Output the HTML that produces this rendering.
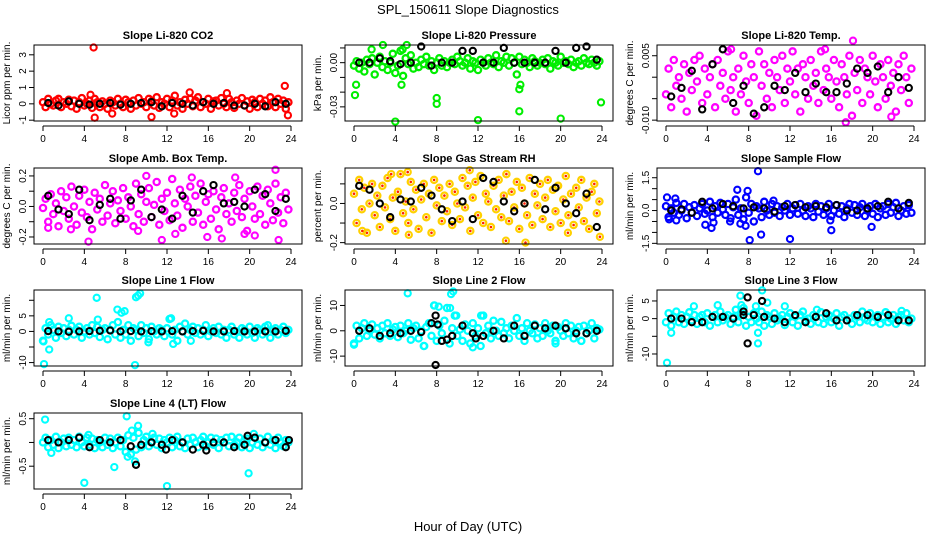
<!DOCTYPE html>
<html><head><meta charset="utf-8">
<style>
html,body{margin:0;padding:0;background:#fff;}
svg{display:block;font-family:"Liberation Sans",Arial,sans-serif;}
</style></head>
<body>
<svg id="chart" width="936" height="540" viewBox="0 0 936 540" xmlns="http://www.w3.org/2000/svg">
<text x="468" y="14" text-anchor="middle" font-size="13">SPL_150611  Slope Diagnostics</text>
<text x="468" y="531" text-anchor="middle" font-size="13">Hour of Day (UTC)</text>
</svg>
<script>
const hoursA=[0,0.25,0.5,0.75,1,1.25,1.5,1.75,2,2.25,2.5,2.75,3,3.25,3.5,3.75,4,4.25,4.5,4.75,5,5.25,5.5,5.75,6,6.25,6.5,6.75,7,7.25,7.5,7.75,8,8.25,8.5,8.75,9,9.25,9.5,9.75,10,10.25,10.5,10.75,11,11.25,11.5,11.75,12,12.25,12.5,12.75,13,13.25,13.5,13.75,14,14.25,14.5,14.75,15,15.25,15.5,15.75,16,16.25,16.5,16.75,17,17.25,17.5,17.75,18,18.25,18.5,18.75,19,19.25,19.5,19.75,20,20.25,20.5,20.75,21,21.25,21.5,21.75,22,22.25,22.5,22.75,23,23.25,23.5,23.75];
const hoursB=[0.5,1.5,2.5,3.5,4.5,5.5,6.5,7.5,8.5,9.5,10.5,11.5,12.5,13.5,14.5,15.5,16.5,17.5,18.5,19.5,20.5,21.5,22.5,23.5];
const xTicks=[0,4,8,12,16,20,24];

const co2Color=[0.1,-0.2,0.3,0.0,-0.1,0.2,0.3,-0.2,0.1,0.0,0.25,-0.15,0.2,-0.3,0.1,0.35,-0.1,0.0,0.2,-0.25,0.3,0.1,-0.2,0.15,0.0,-0.3,0.2,0.1,-0.1,0.3,0.0,-0.2,0.25,0.1,-0.3,0.2,-0.1,0.35,0.0,0.1,-0.2,0.3,0.15,-0.1,0.4,-0.25,0.1,0.0,0.3,-0.2,0.2,0.5,-0.1,0.1,-0.3,0.25,0.0,0.3,-0.15,0.2,0.4,-0.2,0.1,0.0,0.3,-0.3,0.15,0.2,-0.1,0.35,0.0,-0.2,0.3,0.1,-0.25,0.2,0.0,0.35,-0.1,0.15,-0.3,0.25,0.1,-0.2,0.3,0.0,0.2,-0.15,0.4,0.1,-0.2,0.3,0.0,0.2,-0.3,0.1];
const co2OutH=[4.9,5.0,6.7,10.5,12.7,23.4,23.7,14.2,17.8,4.6];
const co2OutV=[3.45,-0.85,-0.6,-0.8,-0.6,1.1,-0.7,0.7,0.65,0.55];
const co2Black=[0.05,-0.1,0.15,0.0,-0.05,0.0,0.05,-0.05,0.0,0.05,0.1,-0.15,0.05,0.0,-0.1,0.1,0.0,0.05,-0.1,-0.1,0.0,-0.15,0.1,0.0];

const presColor=[-0.002,0.001,-0.004,0.0,-0.006,0.002,-0.001,0.003,-0.008,0.0,0.004,-0.003,0.001,-0.005,0.0,0.006,-0.007,-0.002,0.008,-0.009,0.003,-0.001,0.005,-0.004,0.0,-0.003,0.002,-0.001,0.004,-0.002,0.001,-0.005,0.0,0.003,-0.002,0.001,-0.003,0.0,0.002,-0.001,0.004,0.001,-0.002,0.0,0.003,-0.004,0.001,0.0,-0.005,0.002,0.0,-0.002,0.003,0.0,-0.001,0.005,-0.003,0.001,0.0,0.004,-0.002,0.003,0.0,-0.008,0.004,-0.001,0.002,0.0,-0.003,0.003,0.001,-0.002,0.0,0.002,-0.001,0.003,-0.004,0.001,0.0,-0.002,0.004,0.0,0.001,-0.001,0.002,-0.003,0.0,0.001,-0.002,0.003,0.0,-0.001,0.002,0.0,-0.002,0.001];
const presOutH=[0.1,0.2,2.8,4.0,4.6,5.1,8.0,8.0,12.0,16.0,16.0,16.1,20.0,23.9,1.7,4.7];
const presOutV=[-0.022,-0.015,0.012,-0.04,-0.015,0.012,-0.024,-0.028,-0.039,-0.033,-0.018,-0.015,-0.038,-0.027,0.009,0.009];
const presBlack=[0.0,0.0,0.003,0.001,-0.001,0.0,0.011,-0.002,0.0,0.0,0.008,0.008,0.0,0.0,0.010,0.0,0.0,0.0,0.0,0.008,0.0,0.010,0.011,0.002];

const tempColor=[-0.004,0.002,-0.007,0.004,-0.002,0.0,-0.005,0.003,-0.008,0.001,-0.003,0.004,-0.001,0.005,-0.006,0.002,-0.004,0.0,0.003,-0.007,0.004,-0.002,0.001,-0.005,0.006,-0.003,0.0,-0.008,0.002,-0.004,0.005,-0.001,-0.006,0.003,0.0,-0.009,0.006,-0.002,0.003,-0.005,0.001,-0.007,0.004,0.0,-0.003,0.005,-0.006,0.002,-0.001,0.006,-0.004,0.002,-0.008,0.003,0.0,-0.005,0.004,-0.002,0.001,-0.006,0.006,-0.003,0.002,0.0,-0.005,0.004,-0.001,-0.007,0.003,0.0,-0.004,0.005,-0.009,0.001,-0.003,0.004,-0.006,0.002,0.0,-0.004,0.005,-0.001,-0.007,0.003,0.0,-0.005,0.004,-0.002,0.001,-0.008,0.003,-0.003,0.005,0.0,-0.006,0.002];
const tempOutH=[18.1,17.4,15.4,6.3,21.8];
const tempOutV=[0.0085,-0.0105,0.0065,0.0065,-0.0092];
const tempBlack=[-0.0045,-0.0025,0.0015,-0.0075,0.003,0.0065,-0.006,-0.002,-0.0085,-0.007,-0.002,-0.003,0.001,-0.0035,-0.0015,-0.0035,-0.0035,-0.0015,0.002,0.001,0.0025,-0.0035,0.0,-0.0025];

const ambColor=[-0.01,0.05,-0.1,0.08,-0.05,0.02,-0.13,0.1,-0.03,0.06,-0.08,0.13,0.0,-0.12,0.07,-0.04,0.11,-0.07,0.03,-0.15,0.09,-0.02,0.05,-0.1,0.14,-0.06,0.02,0.1,-0.11,0.04,-0.03,0.12,-0.08,0.06,0.0,-0.13,0.15,-0.05,0.08,-0.1,0.03,0.12,-0.07,0.01,0.16,-0.12,0.05,-0.03,0.09,-0.09,0.18,0.02,-0.06,0.11,-0.14,0.05,0.0,0.13,-0.1,0.07,-0.04,0.15,-0.12,0.03,0.08,-0.08,0.1,-0.02,-0.15,0.06,0.12,-0.05,0.02,-0.1,0.09,-0.03,0.14,-0.07,0.05,-0.16,0.1,0.0,-0.08,0.13,-0.05,0.07,-0.12,0.11,0.02,-0.09,0.15,-0.04,0.06,-0.11,0.09,-0.02];
const ambOutH=[4.4,11.5,12.8,22.5,22.8,15.9,17.3,20.5,9.2,19.5,10.0,14.4,18.6,0.5,2.7];
const ambOutV=[-0.23,-0.22,-0.18,0.24,-0.22,-0.2,-0.21,-0.19,-0.16,-0.18,0.2,0.19,0.19,-0.14,-0.15];
const ambBlack=[0.07,-0.02,-0.05,0.11,-0.09,0.01,0.05,-0.08,0.04,0.11,-0.07,-0.02,-0.08,0.07,-0.04,0.1,0.14,0.02,0.03,0.0,0.11,0.08,-0.03,0.05];

const rhColor=[0.05,-0.1,0.12,-0.03,0.08,-0.15,0.0,0.1,-0.06,0.04,-0.12,0.09,-0.02,0.13,-0.08,0.03,-0.14,0.06,0.15,-0.05,0.01,-0.1,0.11,-0.03,0.07,-0.13,0.02,0.1,-0.07,0.05,-0.15,0.12,-0.01,0.08,-0.09,0.04,-0.04,0.1,-0.11,0.06,0.0,-0.08,0.13,-0.02,0.09,-0.14,0.03,0.11,-0.06,0.14,-0.1,0.05,0.01,-0.12,0.09,-0.03,0.12,-0.07,0.04,0.15,-0.09,0.06,-0.02,0.11,-0.13,0.08,0.0,-0.06,0.13,-0.11,0.05,-0.01,0.1,-0.08,0.03,0.12,-0.12,0.07,-0.04,0.09,-0.1,0.02,0.14,-0.06,0.05,-0.11,0.08,-0.02,0.12,-0.09,0.03,-0.13,0.06,0.1,-0.05,0.01];
const rhOutH=[11.2,14.7,16.6,23.8,5.2,3.6,5.3,0.8,20.7];
const rhOutV=[0.17,-0.19,-0.2,-0.17,0.16,0.15,-0.16,-0.14,-0.15];
const rhBlack=[0.09,0.07,0.0,-0.07,0.02,0.01,0.08,0.04,-0.03,-0.09,0.01,-0.08,0.13,0.11,0.01,-0.04,0.0,0.12,-0.03,0.08,0.0,-0.05,0.05,-0.12];

const flowColor=[0.2,-0.3,0.1,-0.1,0.35,-0.2,0.0,0.3,-0.35,0.15,-0.1,0.25,-0.25,0.1,0.3,-0.15,0.0,0.4,-0.3,0.2,-0.1,0.35,0.05,-0.2,0.3,-0.35,0.15,0.5,-0.2,0.1,-0.4,0.6,-0.1,0.3,-0.5,0.2,0.1,-0.3,0.4,0.0,-0.2,0.3,-0.1,0.2,-0.25,0.15,0.0,0.3,-0.2,0.1,0.25,-0.15,0.3,0.0,-0.25,0.2,0.1,-0.3,0.3,-0.05,0.2,-0.2,0.1,0.3,-0.25,0.0,0.25,-0.15,0.2,-0.3,0.1,0.3,-0.1,0.25,-0.2,0.15,0.3,-0.25,0.0,0.2,-0.15,0.3,-0.3,0.1,0.2,-0.2,0.3,-0.1,0.15,0.35,-0.25,0.0,0.2,-0.15,0.25,-0.1];
const flowOutH=[0.1,0.3,0.9,1.0,3.8,4.4,4.6,6.9,7.9,8.9,8.1,9.2,12.0,16.0,15.9,19.9,7.2,7.7,10.4,6.2];
const flowOutV=[0.6,-0.4,0.55,-0.45,-0.65,-0.8,-0.55,0.95,0.9,1.8,-1.35,-1.1,-1.3,-0.9,-0.45,-0.75,-0.6,-0.7,0.45,-0.5];
const flowBlack=[0.0,0.05,-0.1,0.4,0.1,0.3,0.2,0.1,0.15,0.1,-0.05,0.2,0.25,0.15,0.2,0.15,0.25,0.0,0.0,0.1,0.2,0.4,0.1,0.35];

const l1Color=[-3,1,-1,2,0.5,-2,1.5,-0.5,1,-1.5,0.5,1.8,-1,0.5,1.5,-2,0,1,-1,2,-0.5,1.5,-1.8,0.5,1,-2.5,0.5,2,-1,3,-2,0.5,-1,2,-3,1,0.5,-1.5,2,-0.5,1,-2.5,1.5,0,-1,1,0.5,-1.5,1,4,-1,0.5,-3,1.5,0,2.5,-1,0.5,1.5,-0.5,1,-1,0.5,2,-1.5,0,1,-0.5,1.5,-1,0.5,-2,0.5,1.5,-1,0,-2,1,0.5,-1,1.5,-0.5,-2,1,0.5,-1,1.5,2,-2,0.5,1,-1,0.5,1.5,-0.5,0.5];
const l1OutH=[0.1,0.05,0.6,0.6,5.2,5.3,2.5,7.2,7.9,7.6,8.9,9.2,9.4,9.0,12.4,12.6,14.3,10.2];
const l1OutV=[-10.5,-3.2,-5.8,3,10.8,3.8,4.2,7,6.5,6,-10.8,11.5,12.2,11,4.2,-4,-3,-3.5];
const l1Black=[0.1,0,-0.1,0,0.1,0.2,0.3,0,0.1,0,0.1,0,0.1,0,0.1,0.2,0,0,0.1,0,0,0,0,0.2];

const l2Color=[-5,2,-3,1,3,-2,0,2.5,-1.5,1,-3,2,-1,3,-2,0.5,1.5,-2.5,2,-1,0,3,-3.5,1,2,-3,0,-6,1.5,3,-2,10,-4,2,-1,4,9,-5,1,6,-2,0.5,-4,2.5,0,-5,3,-2,1,-6,6,-1,2,-3,4,0,-2,3.5,-1,1,-3,2,0,5,-2,1,-4,3,0,-1,2.5,-3,1,-2,3,0,-1,2,-4,1.5,0,-2,3,-1,2,-3,0,1.5,-4,2,-1,0,3,-3,1,0.5];
const l2OutH=[5.2,9.4,9.6,7.8,8.2,9.3,9.9,12.3,0.0,6.8,11.5,19.5,22];
const l2OutV=[14.8,14.5,15.5,10,9.5,9,6,6,-5.5,-6,-6.5,-5,-4];
const l2Black=[0,1,-2,-1,-1,0,-0.5,3,-4,-2,2,-1,-2,0,-3,2,-2,2,1,2,1,-1,-1,0];
const l2BlackOutH=[7.9,7.9,8.1,9.0,11.8];
const l2BlackOutV=[6,-13.5,2.5,-3.5,-3];

const l3Color=[-1,1.5,-2,0.5,2,-1,1,-1.5,0.5,1.8,-0.5,1,-1.5,0.5,1,-1,1.5,-2,0.5,1,-1,2,-0.5,0.5,1,-1.5,0.5,2.5,-1,1,3,-2,0.5,-1,1.5,0,-1,2,-2,1,0.5,-1.5,1.5,-0.5,0,1,-1.8,0.5,1.5,-1,0.5,-2,1,2,-0.5,0,-1.5,1,0.5,-1,1.8,-1.5,0.5,1,-1,0,1.5,-2,0.5,1,-0.5,0,-1.5,1,0.5,-1,2,0,-0.5,1.5,-1,0.5,1,-1.5,0.5,1.8,-1,0,1,-1.5,0.5,1,-0.5,1.5,-1,0];
const l3OutH=[0.1,0.5,7.2,7.3,9.3,9.8,8.9,8.9,8.7,11.5,5.0,2.7,14.6,22.8];
const l3OutV=[-12.5,-4,6.5,3.8,8,4.5,-7,-4,3.5,3.5,3.8,3.5,2.5,2.2];
const l3Black=[0,0,-1,-1,0.5,0.5,0,1,1,0.5,0,-1,1,-1,0.5,1.5,-0.5,-0.5,1,1,0.5,1,-0.5,-0.5];
const l3BlackOutH=[7.9,7.9,9.3,7.5];
const l3BlackOutV=[6,-7,5,2];

const l4Color=[0.0,0.1,-0.1,0.05,-0.05,0.12,-0.12,0.0,0.08,-0.08,0.1,-0.05,0.05,-0.1,0.12,0.0,-0.08,0.1,-0.05,0.08,-0.12,0.05,0.0,-0.1,0.1,-0.05,0.08,-0.12,0.0,0.1,-0.08,0.05,-0.2,0.15,-0.25,0.1,-0.15,0.2,-0.1,0.05,0.12,-0.08,0.0,0.1,-0.05,0.08,-0.12,0.05,0.0,0.1,-0.1,0.05,0.12,-0.08,0.0,-0.12,0.08,-0.05,0.1,0.0,-0.1,0.05,0.12,-0.08,0.0,0.1,-0.05,0.08,-0.12,0.05,0.0,0.1,-0.08,0.12,-0.05,0.0,0.1,-0.1,0.05,0.08,-0.12,0.0,0.1,-0.05,0.08,-0.1,0.0,0.12,-0.05,0.05,-0.12,0.1,0.0,-0.08,0.05,0.0];
const l4OutH=[0.2,0.8,4.0,6.9,8.1,8.6,9.2,8.9,8.2,12.0,19.9,4.4,10.6,20.4];
const l4OutV=[0.48,-0.22,-0.85,-0.52,0.55,0.25,0.35,-0.4,-0.3,-0.92,-0.65,0.16,0.18,0.18];
const l4Black=[0.05,0.0,0.05,0.1,-0.1,0.05,0.0,0.05,-0.08,-0.05,0.0,-0.05,0.05,0.0,-0.15,-0.05,0.0,0.0,-0.1,-0.05,0.1,0.0,0.05,-0.1];
const l4BlackOutH=[9.0,11.9,15.8,19.8,23.8];
const l4BlackOutV=[-0.47,-0.15,-0.17,0.14,0.05];

const panels=[
 {name:'co2',title:'Slope Li-820 CO2',ylab:'Licor ppm per min.',col:0,row:0,ymin:-1.05,ymax:3.6,ticks:[-1,0,1,2,3],labels:['-1','0','1','2','3'],color:'#ff0000',c:co2Color,oh:co2OutH,ov:co2OutV,b:co2Black},
 {name:'pressure',title:'Slope Li-820 Pressure',ylab:'kPa per min.',col:1,row:0,ymin:-0.0396,ymax:0.012,ticks:[-0.03,-0.02,-0.01,0,0.01],labels:['-0.03','','','0.00',''],color:'#00ee00',c:presColor,oh:presOutH,ov:presOutV,b:presBlack},
 {name:'li820-temp',title:'Slope Li-820 Temp.',ylab:'degrees C per min.',col:2,row:0,ymin:-0.0102,ymax:0.0075,ticks:[-0.01,-0.005,0,0.005],labels:['-0.010','','','0.005'],color:'#ff00ff',c:tempColor,oh:tempOutH,ov:tempOutV,b:tempBlack},
 {name:'amb-box-temp',title:'Slope Amb. Box Temp.',ylab:'degrees C per min.',col:0,row:1,ymin:-0.246,ymax:0.252,ticks:[-0.2,-0.1,0,0.1,0.2],labels:['-0.2','','0.0','','0.2'],color:'#ff00ff',c:ambColor,oh:ambOutH,ov:ambOutV,b:ambBlack},
 {name:'gas-stream-rh',title:'Slope Gas Stream RH',ylab:'percent per min.',col:1,row:1,ymin:-0.207,ymax:0.181,ticks:[-0.2,-0.1,0,0.1],labels:['-0.2','','0.0',''],color:'#ffd000',inner:'#ff2000',c:rhColor,oh:rhOutH,ov:rhOutV,b:rhBlack},
 {name:'sample-flow',title:'Slope Sample Flow',ylab:'ml/min per min.',col:2,row:1,ymin:-1.53,ymax:1.945,ticks:[-1.5,-1,-0.5,0,0.5,1,1.5],labels:['-1.5','','','0.0','','','1.5'],color:'#0000ff',c:flowColor,oh:flowOutH,ov:flowOutV,b:flowBlack},
 {name:'line1-flow',title:'Slope Line 1 Flow',ylab:'ml/min per min.',col:0,row:2,ymin:-11.1,ymax:13.3,ticks:[-10,-5,0,5,10],labels:['-10','','0','5',''],color:'#00ffff',c:l1Color,oh:l1OutH,ov:l1OutV,b:l1Black},
 {name:'line2-flow',title:'Slope Line 2 Flow',ylab:'ml/min per min.',col:1,row:2,ymin:-13.9,ymax:16.1,ticks:[-10,0,10],labels:['-10','0','10'],color:'#00ffff',c:l2Color,oh:l2OutH,ov:l2OutV,b:l2Black,bh:l2BlackOutH,bv:l2BlackOutV},
 {name:'line3-flow',title:'Slope Line 3 Flow',ylab:'ml/min per min.',col:2,row:2,ymin:-13.4,ymax:8.1,ticks:[-10,-5,0,5],labels:['-10','','0','5'],color:'#00ffff',c:l3Color,oh:l3OutH,ov:l3OutV,b:l3Black,bh:l3BlackOutH,bv:l3BlackOutV},
 {name:'line4-flow',title:'Slope Line 4 (LT) Flow',ylab:'ml/min per min.',col:0,row:3,ymin:-0.98,ymax:0.62,ticks:[-0.5,0,0.5],labels:['-0.5','','0.5'],color:'#00ffff',c:l4Color,oh:l4OutH,ov:l4OutV,b:l4Black,bh:l4BlackOutH,bv:l4BlackOutV}
];

const NS='http://www.w3.org/2000/svg';
const svg=document.getElementById('chart');
const colLeft=[34,345,657];
const rowTop=[45,168,290,413];
const W=268,H=76;
function mk(tag,attrs,parent){const e=document.createElementNS(NS,tag);for(const k in attrs)e.setAttribute(k,attrs[k]);parent.appendChild(e);return e;}

panels.forEach(p=>{
  const L=colLeft[p.col],T=rowTop[p.row],B=T+H,R=L+W;
  const xs=h=>L+9+h*(W-20)/24;
  const ys=v=>B-(v-p.ymin)/(p.ymax-p.ymin)*H;
  const g=mk('g',{},svg);
  
  
  const t=mk('text',{x:(L+R)/2,y:T-6,'text-anchor':'middle','font-size':'11','font-weight':'bold'},g);
  t.textContent=p.title;
  
  
  const yl=mk('text',{x:0,y:0,'text-anchor':'middle','font-size':'10',transform:`translate(${L-24},${T+H/2}) rotate(-90)`},g);
  yl.textContent=p.ylab;
  
  
  const plot=mk('g',{},g);
  
  
  const dot=(h,v,col,sw,inner)=>{
    const c=mk('circle',{cx:xs(h).toFixed(1),cy:ys(v).toFixed(1),r:3.1,fill:'none',stroke:col,'stroke-width':sw},plot);
    
    
    if(inner){const d=mk('circle',{cx:xs(h).toFixed(1),cy:ys(v).toFixed(1),r:1.3,fill:inner},plot);
      
      }
  };
  p.c.forEach((v,i)=>dot(hoursA[i],v,p.color,2.3,p.inner));
  p.oh.forEach((h,i)=>dot(h,p.ov[i],p.color,2.1,p.inner));
  p.b.forEach((v,i)=>dot(hoursB[i],v,'#000',2.1));
  if(p.bh)p.bh.forEach((h,i)=>dot(h,p.bv[i],'#000',2.1));
  const box=mk('rect',{x:L,y:T,width:W,height:H,fill:'none',stroke:'#000','stroke-width':1},g);
  
  
  const xa=mk('g',{},g);
  
  
  mk('line',{x1:xs(0),x2:xs(24),y1:B+5,y2:B+5,stroke:'#000'},xa);
  xTicks.forEach(h=>{
    mk('line',{x1:xs(h),x2:xs(h),y1:B+5,y2:B+10,stroke:'#000'},xa);
    const tl=mk('text',{x:xs(h),y:B+21,'text-anchor':'middle','font-size':'10'},xa);
    tl.textContent=h;
    
    
  });
  const ya=mk('g',{},g);
  
  
  mk('line',{x1:L,x2:L,y1:ys(p.ticks[0]),y2:ys(p.ticks[p.ticks.length-1]),stroke:'#000'},ya);
  p.ticks.forEach((v,i)=>{
    mk('line',{x1:L-5,x2:L,y1:ys(v),y2:ys(v),stroke:'#000'},ya);
    if(p.labels[i]){
      const tl=mk('text',{x:0,y:0,'text-anchor':'middle','font-size':'10',transform:`translate(${L-8},${ys(v)}) rotate(-90)`},ya);
      tl.textContent=p.labels[i];
      
      
    }
  });
});
</script>
</body></html>
